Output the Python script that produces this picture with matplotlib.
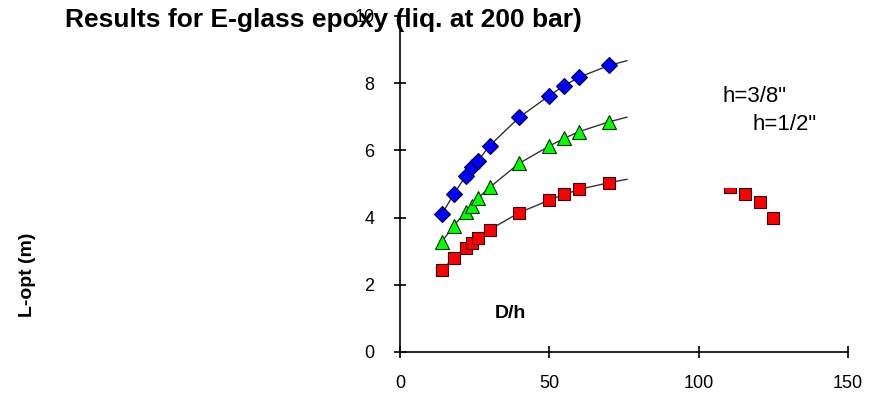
import numpy as np
import matplotlib.pyplot as plt
from matplotlib.patches import Rectangle

# D/h values shared by all three series
dh = [14, 18, 22, 24, 26, 30, 40, 50, 55, 60, 70]

# L-opt (m) for each series
l_blue = [4.10, 4.70, 5.24, 5.50, 5.68, 6.14, 6.99, 7.63, 7.93, 8.18, 8.53]
l_green = [3.28, 3.76, 4.16, 4.35, 4.57, 4.90, 5.62, 6.13, 6.36, 6.56, 6.85]
l_red = [2.44, 2.80, 3.10, 3.24, 3.38, 3.64, 4.15, 4.52, 4.69, 4.84, 5.04]

# trend lines run a little past the last point
trend_end = 76
end_blue, end_green, end_red = 8.67, 6.99, 5.14

# extra red points at the right (partly hidden behind the legend box)
dh_extra = [110.5, 115.5, 120.5, 125]
l_extra = [4.92, 4.70, 4.46, 3.98]

plt.rcParams['font.family'] = ['Liberation Sans', 'DejaVu Sans']

fig = plt.figure(figsize=(8.69, 4.0), dpi=100)
ax = fig.add_axes([400 / 869, 1 - 352 / 400, 448 / 869, 336 / 400])

for ys, end in [(l_blue, end_blue), (l_green, end_green), (l_red, end_red)]:
    ax.plot(dh + [trend_end], ys + [end], color='#333333', lw=1.0, zorder=2)

ax.plot(dh, l_blue, 'D', ms=8, mfc='#0000ff', mec='#000040', mew=0.8, zorder=3)
ax.plot(dh, l_green, '^', ms=9.5, mfc='#00ff00', mec='#003000', mew=0.8, zorder=3)
ax.plot(dh, l_red, 's', ms=8.5, mfc='#ff0000', mec='#300000', mew=0.8, zorder=3)
ax.plot(dh_extra, l_extra, 's', ms=8.5, mfc='#ff0000', mec='#300000', mew=0.8, zorder=3)

ax.set_xlim(0, 150)
ax.set_ylim(0, 10)
ax.set_xticks([0, 50, 100, 150])
ax.set_yticks([0, 2, 4, 6, 8, 10])
ax.spines['top'].set_visible(False)
ax.spines['right'].set_visible(False)
for s in ['left', 'bottom']:
    ax.spines[s].set_linewidth(1.2)
ax.tick_params(direction='inout', length=9, width=1.2, labelsize=13, colors='black')
ax.tick_params(axis='x', pad=12)
ax.tick_params(axis='y', pad=14)

ax.text(0.2455, 0.116, 'D/h', transform=ax.transAxes, ha='center', va='center',
        fontsize=14, fontweight='bold')

fig.text(28 / 869, 1 - 275 / 400, 'L-opt (m)', rotation=90, ha='center', va='center',
         fontsize=14, fontweight='bold')
fig.text(65 / 869, 1 - 20 / 400, 'Results for E-glass epoxy (liq. at 200 bar)',
         ha='left', va='center', fontsize=19, fontweight='bold', zorder=10)

# white legend box covering the top right
fig.patches.append(Rectangle((715 / 869, 1 - 188.3 / 400), 154 / 869, 188.3 / 400,
                             transform=fig.transFigure, facecolor='white',
                             edgecolor='none', zorder=5))
fig.text(723 / 869, 1 - 97 / 400, 'h=3/8"', ha='left', va='center', fontsize=16, zorder=6)
fig.text(753 / 869, 1 - 125 / 400, 'h=1/2"', ha='left', va='center', fontsize=16, zorder=6)

fig.savefig('out.png', dpi=100)
